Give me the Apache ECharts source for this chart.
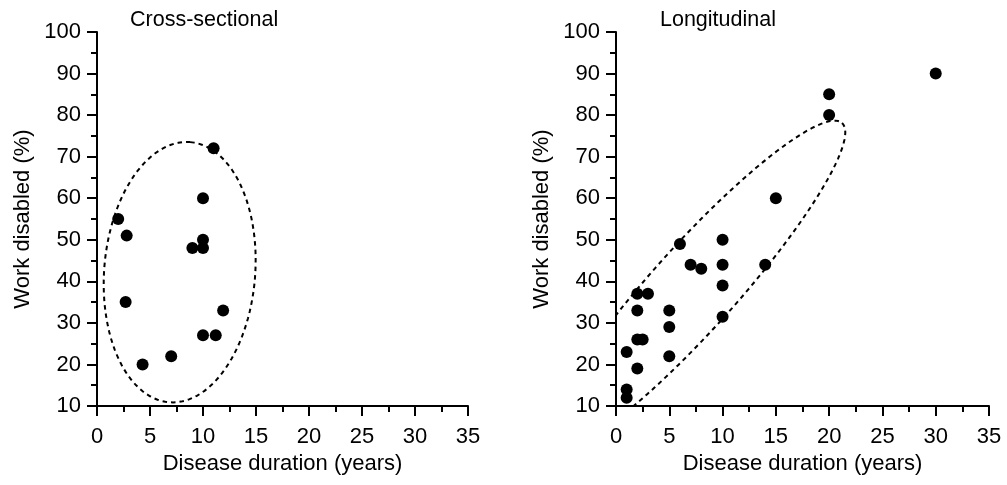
<!DOCTYPE html>
<html>
<head>
<meta charset="utf-8">
<script src="https://cdn.jsdelivr.net/npm/echarts@6/dist/echarts.min.js"></script>
<style>
  html, body { margin: 0; padding: 0; background: #fff; }
  #chart { width: 1007px; height: 485px; }
</style>
</head>
<body>
<div id="chart"></div>
<script>
// values
var titles = ['Cross-sectional', 'Longitudinal'];
var xName = 'Disease duration (years)';
var yName = 'Work disabled (%)';

var crossX = [11, 10, 2, 2.8, 9, 10, 10, 2.7, 11.9, 10, 11.2, 7, 4.3];
var crossY = [72, 60, 55, 51, 48, 50, 48, 35, 33, 27, 27, 22, 20];

var longX = [30, 20, 20, 15, 6, 10, 7, 8, 10, 14, 10, 2, 3, 2, 5, 10, 5, 2, 2.5, 1, 5, 2, 1, 1];
var longY = [90, 85, 80, 60, 49, 50, 44, 43, 44, 44, 39, 37, 37, 33, 33, 31.5, 29, 26, 26, 23, 22, 19, 14, 12];

// dashed ellipses: centre x, centre y, semi-axis 1 (dx, dy), semi-axis 2 (dx, dy)
var crossEllipse = [7.8, 42.2, 0.99, 31.3, 7.1, -1.46];
var longEllipse = [7.33, 38.5, 13.88, 39.6, 2.93, -6.77];

var font = 'Liberation Sans, Arial, sans-serif';

function pairs(xs, ys) {
    var out = [];
    for (var i = 0; i < xs.length; i++) out.push([xs[i], ys[i]]);
    return out;
}

function ellipseItem(params, api) {
    var cx = api.value(0), cy = api.value(1);
    var ux = api.value(2), uy = api.value(3);
    var vx = api.value(4), vy = api.value(5);
    var pts = [];
    for (var k = 0; k <= 120; k++) {
        var t = k / 120 * Math.PI * 2;
        pts.push(api.coord([cx + ux * Math.cos(t) + vx * Math.sin(t),
                            cy + uy * Math.cos(t) + vy * Math.sin(t)]));
    }
    return {
        type: 'polyline',
        shape: { points: pts },
        style: { fill: null, stroke: '#000', lineWidth: 2, lineDash: [4.5, 4] }
    };
}

function xAxis(idx) {
    return {
        gridIndex: idx, type: 'value', min: 0, max: 35, interval: 5,
        name: xName, nameLocation: 'middle', nameGap: 44,
        nameTextStyle: { fontSize: 22, color: '#000', fontFamily: font },
        axisLine: { lineStyle: { color: '#000', width: 2 } },
        axisTick: { length: 10, lineStyle: { color: '#000', width: 2 } },
        minorTick: { show: true, splitNumber: 2, length: 6, lineStyle: { color: '#000', width: 2 } },
        axisLabel: { fontSize: 22, color: '#000', fontFamily: font, margin: 20 },
        splitLine: { show: false }
    };
}

function yAxis(idx) {
    return {
        gridIndex: idx, type: 'value', min: 10, max: 100, interval: 10,
        name: yName, nameLocation: 'middle', nameGap: 63,
        nameTextStyle: { fontSize: 22, color: '#000', fontFamily: font },
        axisLine: { show: true, lineStyle: { color: '#000', width: 2 } },
        axisTick: { show: true, length: 10, lineStyle: { color: '#000', width: 2 } },
        minorTick: { show: true, splitNumber: 2, length: 6, lineStyle: { color: '#000', width: 2 } },
        axisLabel: { fontSize: 22, color: '#000', fontFamily: font, margin: 16 },
        splitLine: { show: false }
    };
}

var chart = echarts.init(document.getElementById('chart'));
chart.setOption({
    backgroundColor: '#fff',
    animation: false,
    title: [
        { text: titles[0], left: 125, top: 4, textStyle: { fontSize: 21.5, fontWeight: 'normal', color: '#000', fontFamily: font } },
        { text: titles[1], left: 655, top: 4, textStyle: { fontSize: 21.5, fontWeight: 'normal', color: '#000', fontFamily: font } }
    ],
    grid: [
        { left: 97, top: 32, width: 371, height: 374 },
        { left: 616, top: 32, width: 373, height: 374 }
    ],
    xAxis: [xAxis(0), xAxis(1)],
    yAxis: [yAxis(0), yAxis(1)],
    series: [
        {
            type: 'custom', xAxisIndex: 0, yAxisIndex: 0, clip: true,
            renderItem: ellipseItem, data: [crossEllipse], encode: { x: 0, y: 1 }, silent: true
        },
        {
            type: 'custom', xAxisIndex: 1, yAxisIndex: 1, clip: true,
            renderItem: ellipseItem, data: [longEllipse], encode: { x: 0, y: 1 }, silent: true
        },
        {
            type: 'scatter', xAxisIndex: 0, yAxisIndex: 0, symbolSize: 12,
            itemStyle: { color: '#000', opacity: 1 }, data: pairs(crossX, crossY)
        },
        {
            type: 'scatter', xAxisIndex: 1, yAxisIndex: 1, symbolSize: 12,
            itemStyle: { color: '#000', opacity: 1 }, data: pairs(longX, longY)
        }
    ]
});
</script>
</body>
</html>
